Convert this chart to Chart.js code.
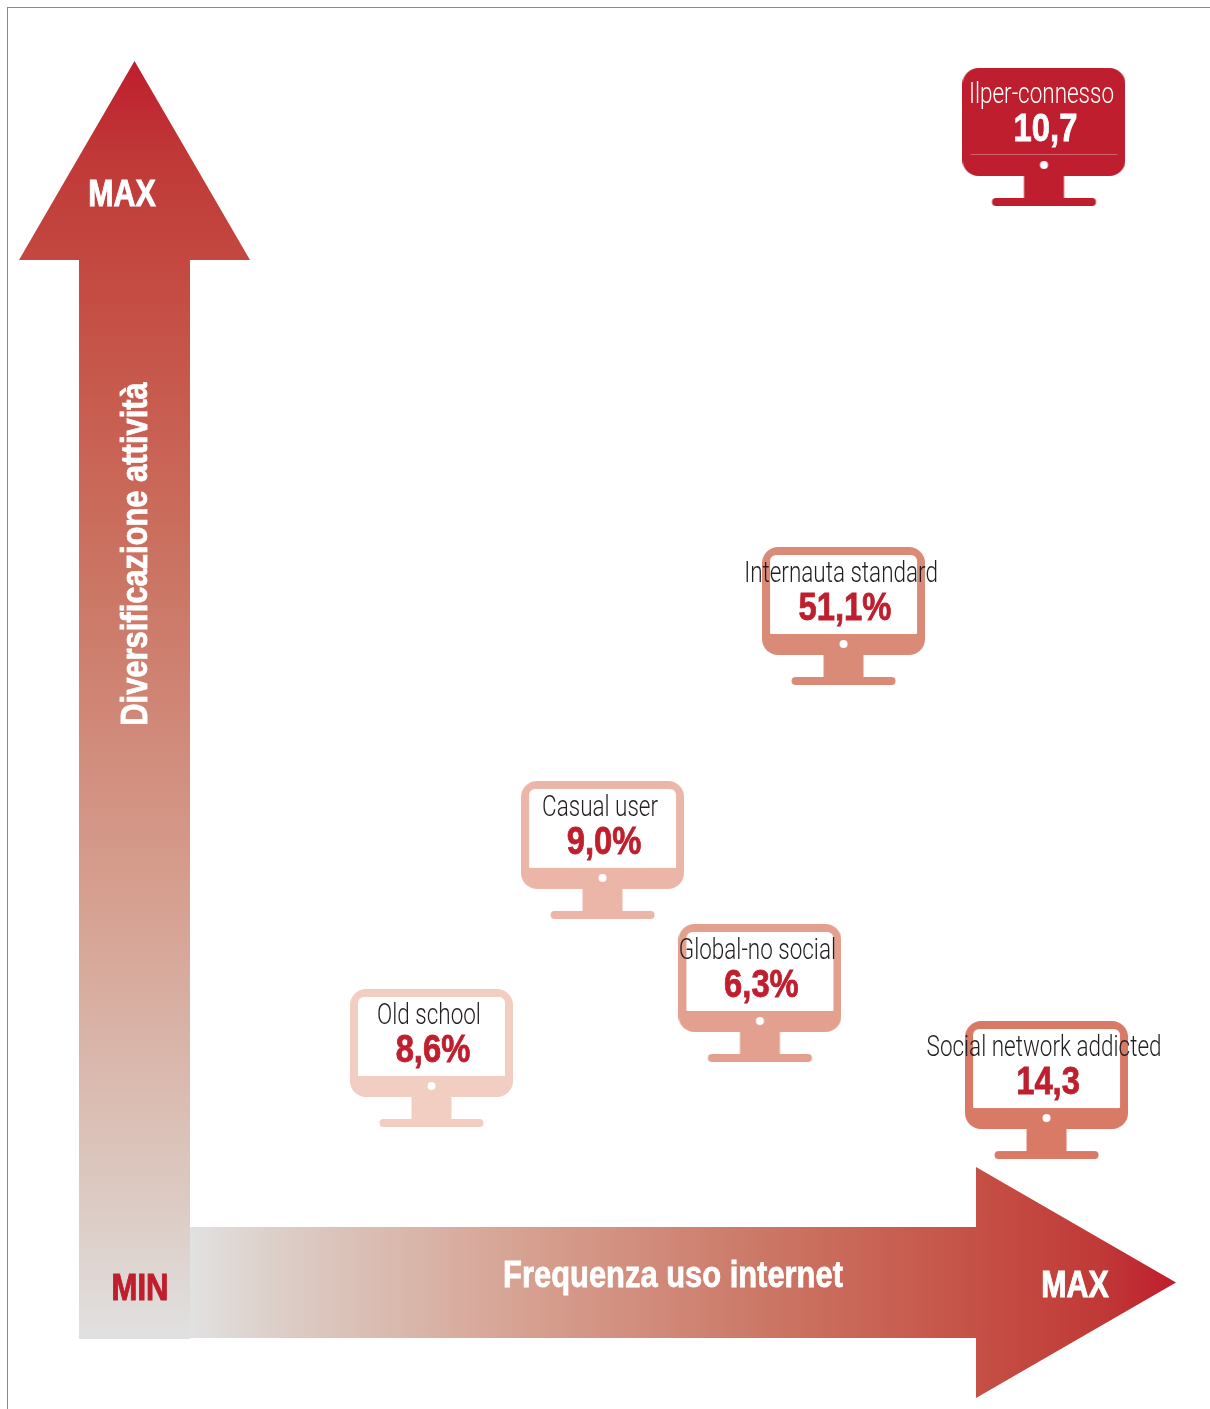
<!DOCTYPE html>
<html><head><meta charset="utf-8">
<style>html,body{margin:0;padding:0;background:#fff}canvas{display:block}</style>
<script src="https://cdn.jsdelivr.net/npm/chart.js@4/dist/chart.umd.min.js"></script>
</head><body><canvas id="c" width="1210" height="1409"></canvas>
<script>
const segments = ['Ilper-connesso','Internauta standard','Casual user','Global-no social','Old school','Social network addicted'];
const shareLabels = ['10,7','51,1%','9,0%','6,3%','8,6%','14,3'];
const usageFrequency = [86.61,66.28,41.84,57.8,24.49,86.87];
const activityDiversity = [94.05,56.54,38.22,27.02,21.93,19.42];
const monitorColors = ['#BE1E2D','#DA8B78','#EBB5A8','#E3A08F','#F2CDC2','#D87A66'];
const labelColors = ['#ffffff','#231F20','#231F20','#231F20','#231F20','#231F20'];
const valueColors = ['#ffffff','#BE1E2D','#BE1E2D','#BE1E2D','#BE1E2D','#BE1E2D'];
const axisTitles = ['Frequenza uso internet','Diversificazione attività'];
const axisEnds = ['MAX','MIN'];

const W=163,H=138;
function rr(g,x,y,w,h,r){g.beginPath();g.roundRect(x,y,w,h,r);g.fill();}
function monitor(color,i){
  const c=document.createElement('canvas');c.width=W;c.height=H;
  const g=c.getContext('2d');
  g.fillStyle=color;
  rr(g,0,0,W,108,16);
  g.fillRect(61.5,107,40,24);
  rr(g,29.5,130,104,8,4);
  if(i===0){g.fillStyle='rgba(255,255,255,.3)';g.fillRect(8,86,147,1);}
  else{g.fillStyle='#fff';g.beginPath();g.roundRect(8,8,147,79,[6,6,1,1]);g.fill();}
  g.fillStyle='#fff';g.beginPath();g.arc(81.5,97,4,0,Math.PI*2);g.fill();
  return c;
}
function text(ctx,s,x,y,font,color,sx,cap,heavy){
  ctx.save();ctx.translate(x,y);ctx.scale(sx,1);ctx.font=font;ctx.fillStyle=color;
  ctx.textAlign='center';ctx.textBaseline='alphabetic';
  if(heavy){ctx.strokeStyle=color;ctx.lineWidth=heavy;ctx.lineJoin='miter';ctx.strokeText(s,0,cap/2);}
  ctx.fillText(s,0,cap/2);ctx.restore();
}
const BOLD='bold 37px "Liberation Sans"';
const VALUE='bold 39px "Liberation Sans"';
const LIGHT='300 29px Roboto';
const artwork={id:'artwork',
  beforeDatasetsDraw(ch){
    const ctx=ch.ctx,a=ch.chartArea;
    const sL=a.left-111,sR=a.left,bot=a.bottom,top=a.top;
    const mid=(sL+sR)/2;
    ctx.fillStyle='#8a8a8a';ctx.fillRect(7,7,1203,1);ctx.fillRect(7,7,1,1402);
    let g=ctx.createLinearGradient(a.left,0,a.right,0);
    g.addColorStop(0,'#E1E1E1');g.addColorStop(.1,'#DCCCC5');g.addColorStop(.35,'#D69F8F');g.addColorStop(.6,'#CB7463');g.addColorStop(.8,'#C55045');g.addColorStop(.92,'#C03A38');g.addColorStop(1,'#BE1E2D');
    ctx.fillStyle=g;ctx.beginPath();
    const cy=bot-55.5,neck=a.right-200;
    ctx.moveTo(a.left,bot-111);ctx.lineTo(neck,bot-111);ctx.lineTo(neck,cy-115.5);ctx.lineTo(a.right,cy);
    ctx.lineTo(neck,cy+115.5);ctx.lineTo(neck,bot);ctx.lineTo(a.left,bot);ctx.closePath();ctx.fill();
    g=ctx.createLinearGradient(0,top,0,bot+1);
    g.addColorStop(0,'#BE1E2D');g.addColorStop(.08,'#C03A38');g.addColorStop(.2,'#C55045');g.addColorStop(.4,'#CB7463');g.addColorStop(.65,'#D69F8F');g.addColorStop(.9,'#DCCCC5');g.addColorStop(1,'#E1E1E1');
    ctx.fillStyle=g;ctx.beginPath();
    ctx.moveTo(mid,top);ctx.lineTo(mid+115.5,top+199);ctx.lineTo(sR,top+199);ctx.lineTo(sR,bot+1);
    ctx.lineTo(sL,bot+1);ctx.lineTo(sL,top+199);ctx.lineTo(mid-115.5,top+199);ctx.closePath();ctx.fill();
  },
  afterDatasetsDraw(ch){
    const ctx=ch.ctx,a=ch.chartArea,pts=ch.getDatasetMeta(0).data;
    pts.forEach((p,i)=>{
      const t=p.y-H/2;
      text(ctx,segments[i],p.x-2.5,t+24.5,LIGHT,labelColors[i],.775,21);
      text(ctx,shareLabels[i],p.x+1.5,t+59,VALUE,valueColors[i],.84,28,.8);
    });
    text(ctx,axisEnds[0],a.left-68,a.top+132,BOLD,'#fff',.82,26,1);
    text(ctx,axisEnds[0],a.right-101,a.bottom-54,BOLD,'#fff',.82,26,1);
    text(ctx,axisEnds[1],a.left-50,a.bottom-51,BOLD,'#BE1E2D',.84,26,1);
    text(ctx,axisTitles[0],a.left+483,a.bottom-64,BOLD,'#fff',.835,26,.8);
    ctx.save();ctx.translate(a.left-56,a.top+493);ctx.rotate(-Math.PI/2);
    text(ctx,axisTitles[1],0,0,BOLD,'#fff',.835,26,.8);ctx.restore();
  }
};
new Chart(document.getElementById('c'),{
  type:'scatter',
  data:{datasets:[{label:'Profili',
    data:usageFrequency.map((x,i)=>({x,y:activityDiversity[i]})),
    pointStyle:monitorColors.map(monitor),pointRadius:1,clip:false}]},
  options:{responsive:false,animation:false,
    layout:{padding:{left:190,right:34,top:61,bottom:71}},
    plugins:{legend:{display:false},tooltip:{enabled:false}},
    scales:{x:{display:false,min:0,max:100},y:{display:false,min:0,max:100}}},
  plugins:[artwork]
});
</script></body></html>
